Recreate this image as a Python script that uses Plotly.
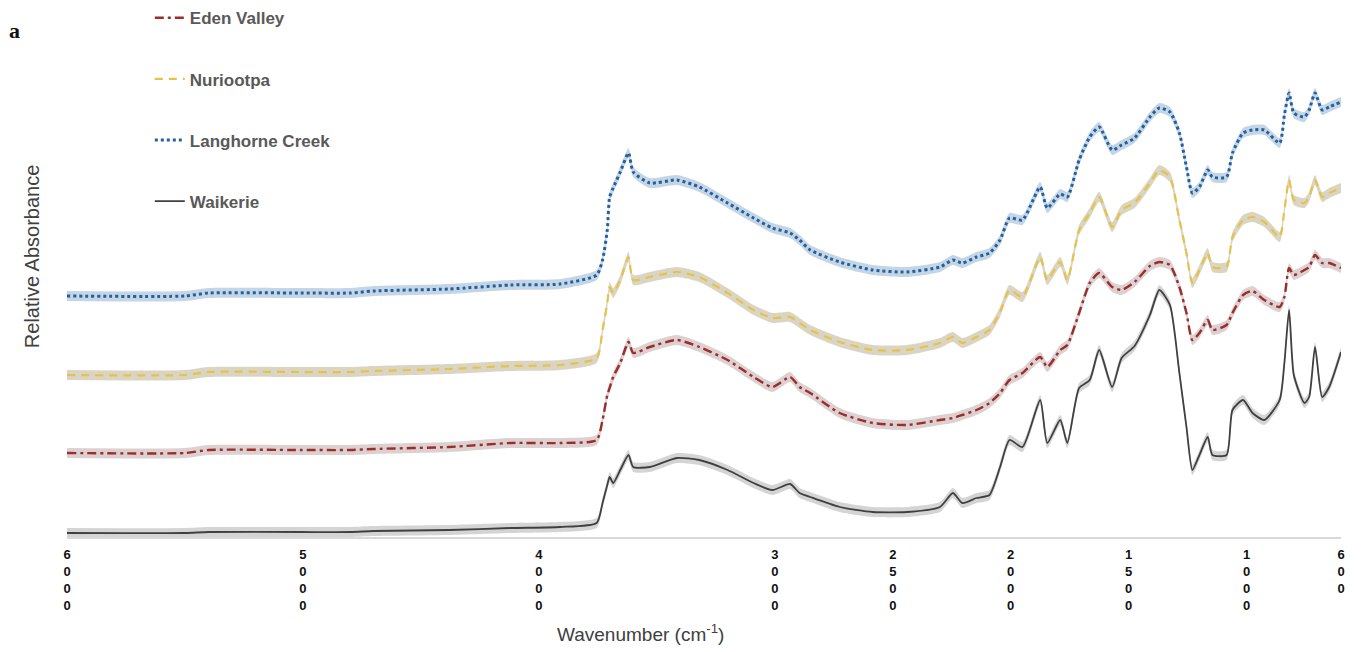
import numpy as np
import plotly.graph_objects as go

# Wavenumber grid (cm-1)
wavenumber = [6000, 5500, 5400, 5010, 4800, 4700, 4380, 4120, 3910, 3755,
              3730, 3710, 3700, 3685, 3655, 3620, 3600, 3530, 3415, 3320,
              3200, 3090, 3010, 2935, 2895, 2850, 2725, 2585, 2440, 2300,
              2245, 2205, 2145, 2090, 2045, 2005, 1950, 1875, 1845, 1790,
              1760, 1710, 1665, 1625, 1570, 1530, 1475, 1410, 1370, 1325,
              1285, 1255, 1230, 1200, 1165, 1145, 1085, 1060, 1015, 975,
              925, 860, 840, 820, 800, 755, 735, 710, 680, 650,
              600]

# Relative absorbance (stacked / offset spectra)
waikerie = [0.04, 0.04, 0.05, 0.05, 0.05, 0.06, 0.07, 0.09, 0.10, 0.14,
            0.34, 0.52, 0.60, 0.54, 0.67, 0.82, 0.70, 0.70, 0.79, 0.77,
            0.67, 0.54, 0.47, 0.53, 0.44, 0.40, 0.30, 0.25, 0.25, 0.30,
            0.44, 0.34, 0.39, 0.42, 0.70, 0.97, 0.90, 1.37, 0.94, 1.17,
            0.94, 1.49, 1.57, 1.87, 1.50, 1.79, 1.91, 2.22, 2.47, 2.32,
            1.64, 1.10, 0.67, 0.82, 1.00, 0.82, 0.82, 1.27, 1.37, 1.24,
            1.17, 1.37, 1.74, 2.27, 1.62, 1.34, 1.40, 1.90, 1.40, 1.50,
            1.85]

eden_valley = [0.84, 0.84, 0.87, 0.87, 0.87, 0.88, 0.90, 0.94, 0.94, 0.97,
               1.17, 1.42, 1.49, 1.60, 1.74, 1.95, 1.84, 1.90, 1.97, 1.90,
               1.77, 1.60, 1.50, 1.60, 1.50, 1.44, 1.24, 1.14, 1.12, 1.17,
               1.19, 1.22, 1.27, 1.34, 1.44, 1.57, 1.64, 1.80, 1.70, 1.87,
               1.92, 2.24, 2.54, 2.64, 2.50, 2.47, 2.55, 2.71, 2.75, 2.72,
               2.50, 2.24, 1.97, 2.04, 2.17, 2.07, 2.12, 2.24, 2.42, 2.46,
               2.37, 2.30, 2.40, 2.69, 2.62, 2.67, 2.70, 2.82, 2.74, 2.74,
               2.69]

nuriootpa = [1.62, 1.62, 1.65, 1.65, 1.65, 1.66, 1.68, 1.71, 1.72, 1.79,
             2.07, 2.34, 2.50, 2.44, 2.57, 2.80, 2.57, 2.60, 2.65, 2.60,
             2.44, 2.27, 2.19, 2.20, 2.14, 2.07, 1.95, 1.87, 1.87, 1.94,
             2.00, 1.94, 2.00, 2.07, 2.25, 2.47, 2.40, 2.80, 2.57, 2.75,
             2.57, 3.07, 3.24, 3.40, 3.10, 3.27, 3.34, 3.54, 3.67, 3.60,
             3.17, 2.84, 2.54, 2.67, 2.84, 2.70, 2.70, 3.00, 3.17, 3.20,
             3.15, 3.00, 3.27, 3.57, 3.37, 3.34, 3.40, 3.57, 3.40, 3.44,
             3.49]

langhorne_creek = [2.41, 2.41, 2.44, 2.44, 2.44, 2.46, 2.48, 2.52, 2.53, 2.62,
                   2.77, 3.07, 3.40, 3.49, 3.65, 3.84, 3.65, 3.54, 3.57, 3.50,
                   3.34, 3.19, 3.09, 3.04, 2.97, 2.87, 2.75, 2.67, 2.65, 2.70,
                   2.77, 2.74, 2.80, 2.84, 2.97, 3.19, 3.17, 3.50, 3.29, 3.43,
                   3.40, 3.77, 4.00, 4.10, 3.87, 3.92, 3.99, 4.20, 4.29, 4.25,
                   4.04, 3.70, 3.44, 3.50, 3.67, 3.60, 3.60, 3.84, 4.04, 4.07,
                   4.07, 3.94, 4.22, 4.44, 4.24, 4.20, 4.27, 4.44, 4.27, 4.30,
                   4.35]

std_dev = 0.05

tick_values = [6000, 5000, 4000, 3000, 2500, 2000, 1500, 1000, 600]

series = [
    # name, data, line colour, dash, width, band colour
    ("Eden Valley", eden_valley, "#9b2d2a", "9px,4px,3px,4px", 2.4, "rgba(214,200,200,0.85)"),
    ("Nuriootpa", nuriootpa, "#e6c24a", "8px,6px", 2.2, "rgba(212,206,184,0.85)"),
    ("Langhorne Creek", langhorne_creek, "#24609e", "3px,3px", 3.0, "rgba(186,206,224,0.85)"),
    ("Waikerie", waikerie, "#404040", "solid", 1.8, "rgba(204,204,204,0.85)"),
]

fig = go.Figure()
x = np.array(wavenumber)

# Bands
for name, vals, col, dash, w, band in series:
    v = np.array(vals)
    fig.add_trace(go.Scatter(x=x, y=v + std_dev, mode="lines", line=dict(width=0, shape="spline", smoothing=0.6),
                             showlegend=False, hoverinfo="skip"))
    fig.add_trace(go.Scatter(x=x, y=v - std_dev, mode="lines", line=dict(width=0, shape="spline", smoothing=0.6),
                             fill="tonexty", fillcolor=band, showlegend=False, hoverinfo="skip"))

# Lines
for rank, (name, vals, col, dash, w, band) in enumerate(series):
    fig.add_trace(go.Scatter(x=x, y=vals, mode="lines", name=name, legendgroup=name, legendrank=rank + 1,
                             line=dict(color=col, dash=dash, width=w, shape="spline", smoothing=0.6)))

fig.update_layout(
    width=1364, height=652,
    margin=dict(l=67, r=23, t=10, b=115, autoexpand=False),
    plot_bgcolor="white", paper_bgcolor="white",
    showlegend=True,
    legend=dict(x=0.065, y=1.0185, xanchor="left", yanchor="top", traceorder="grouped",
                tracegroupgap=36, bgcolor="rgba(0,0,0,0)",
                font=dict(family="Liberation Sans, Arial", size=17, color="#595959", weight="bold")),
    xaxis=dict(range=[6000, 600], tickvals=tick_values,
               ticktext=["<br>".join(str(t)) for t in tick_values],
               tickfont=dict(family="Liberation Sans, Arial", size=13, color="#111111", weight="bold"),
               ticklabelstandoff=5,
               showgrid=False, zeroline=False, showline=True, linecolor="#d9d9d9", linewidth=1.5,
               ticks=""),
    yaxis=dict(range=[0, 5.27], showgrid=False, zeroline=False, showline=False,
               showticklabels=False, ticks=""),
    annotations=[
        dict(text="Wavenumber (cm<sup>-1</sup>)", xref="paper", yref="paper", x=0.4505, y=-0.182,
             xanchor="center", yanchor="middle", showarrow=False,
             font=dict(family="Liberation Sans, Arial", size=19, color="#404040")),
        dict(text="Relative Absorbance", xref="paper", yref="paper", x=0, xshift=-35, y=0.531,
             xanchor="center", yanchor="middle", textangle=-90, showarrow=False,
             font=dict(family="Liberation Sans, Arial", size=20, color="#404040")),
        dict(text="<b>a</b>", xref="paper", yref="paper", x=-0.0416, y=0.962,
             xanchor="center", yanchor="middle", showarrow=False,
             font=dict(family="Liberation Serif, Times New Roman", size=22, color="#111111")),
    ],
)

fig.write_html("out.html")
